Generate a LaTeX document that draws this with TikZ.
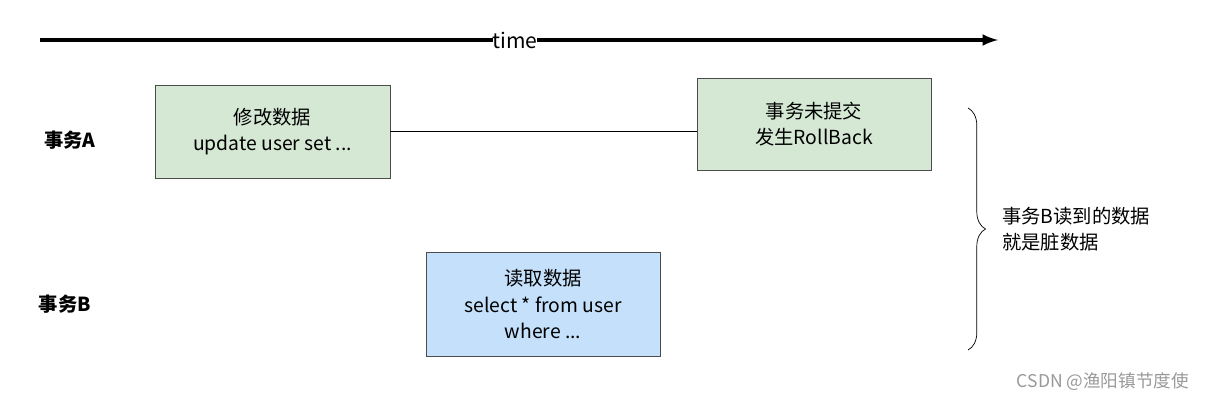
\documentclass[tikz,border=0pt]{standalone}
\usepackage{fontspec}
\setmainfont{Noto Sans CJK SC}
\usetikzlibrary{decorations.pathreplacing}
\definecolor{groen}{HTML}{d5e8d4}
\definecolor{blauw}{HTML}{c4e0fb}
\tikzstyle{stap}=[rectangle, draw=black!70, text centered, align=center,
                  font=\fontsize{11}{15}\selectfont]
\tikzstyle{rij}=[font=\fontsize{11}{14}\selectfont\bfseries]
\begin{document}
\begin{tikzpicture}[x=0.02cm, y=-0.02cm]
  \useasboundingbox (0,0) rectangle (1225,402);

  \coordinate (t0) at (40,40);
  \coordinate (t1) at (998,40);
  \draw[line width=2pt, -latex] (t0) -- (t1);
  \node at (515,40) (time) [fill=white, inner sep=0pt, font=\fontsize{12}{14}\selectfont] {time};

  \node at (70,140) (ta) [rij] {事务A};
  \node at (65,304) (tb) [rij] {事务B};

  \node at (272.5,131.5) (wijzig) [stap, fill=groen, minimum width=4.7cm, minimum height=1.86cm] {修改数据\\update user set ...};
  \node at (814,124) (terug) [stap, fill=groen, minimum width=4.68cm, minimum height=1.84cm] {事务未提交\\发生RollBack};
  \node at (543,304) (lees) [stap, fill=blauw, minimum width=4.68cm, minimum height=2.08cm] {读取数据\\select * from user\\where ...};

  \draw (wijzig.east) -- (wijzig.east -| terug.west);

  \coordinate (b0) at (968,108);
  \coordinate (b1) at (968,350);
  \draw[decorate, decoration={brace, amplitude=10pt}] (b0) -- (b1);
  \node at (996,229) (uitleg) [anchor=west, align=left, font=\fontsize{11}{15}\selectfont] {事务B读到的数据\\就是脏数据};

  \node at (1195,382) (merk) [anchor=east, text=black!40, font=\fontsize{10}{12}\selectfont] {CSDN @渔阳镇节度使};
\end{tikzpicture}
\end{document}
